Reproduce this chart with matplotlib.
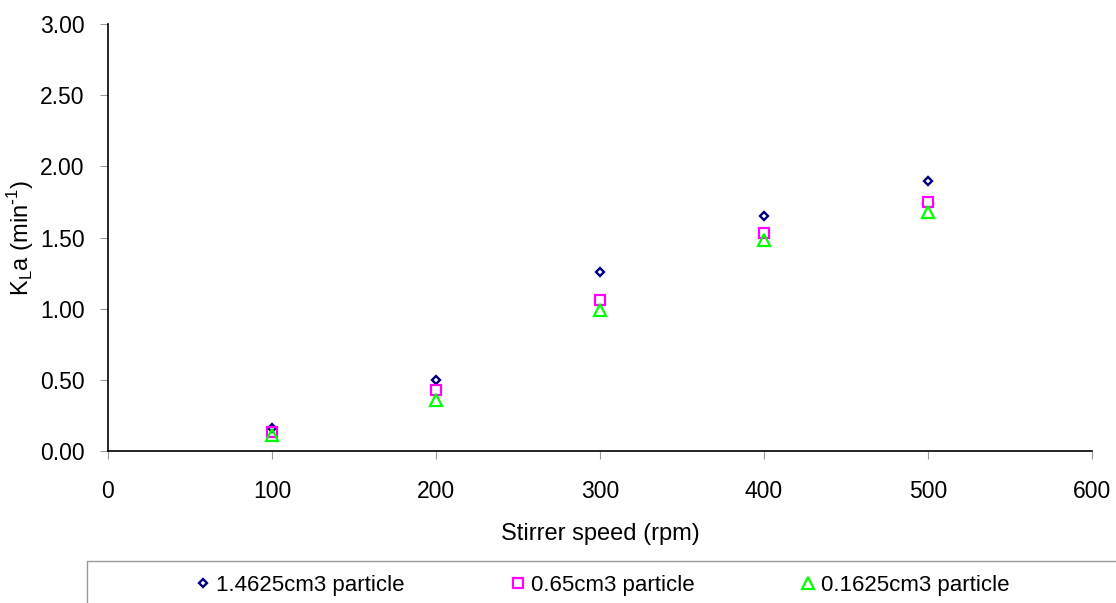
import matplotlib.pyplot as plt
from matplotlib.patches import Rectangle

plt.rcParams['font.family'] = ['Liberation Sans', 'DejaVu Sans']

speed = [100, 200, 300, 400, 500]
kla_large = [0.16, 0.50, 1.26, 1.65, 1.90]
kla_medium = [0.13, 0.43, 1.06, 1.53, 1.75]
kla_small = [0.11, 0.36, 0.99, 1.48, 1.68]
labels = ['1.4625cm3 particle', '0.65cm3 particle', '0.1625cm3 particle']

fig = plt.figure(figsize=(11.16, 6.03), dpi=100)
ax = fig.add_axes([108/1116, 1-451/603, (1092-108)/1116, (451-24)/603])

ax.plot(speed, kla_large, 'D', ms=4.5, mfc='none', mec='#000080', mew=1.7, ls='none', label=labels[0])
ax.plot(speed, kla_medium, 's', ms=6.5, mfc='none', mec='#FF00FF', mew=1.6, ls='none', label=labels[1])
ax.plot(speed, kla_small, '^', ms=8, mfc='none', mec='#00FF00', mew=1.6, ls='none', label=labels[2])

ax.set_xlim(0, 600)
ax.set_ylim(0, 3)
ax.set_xticks([0, 100, 200, 300, 400, 500, 600])
ax.set_yticks([0, 0.5, 1, 1.5, 2, 2.5, 3])
ax.set_yticklabels(['%.2f' % v for v in ax.get_yticks()])
for s in ['top', 'right']:
    ax.spines[s].set_visible(False)
for s in ['left', 'bottom']:
    ax.spines[s].set_linewidth(1.2)
ax.tick_params(axis='both', direction='out', length=6, color='#999999', labelsize=16.5)
ax.tick_params(axis='x', pad=15)
ax.tick_params(axis='y', pad=11)

ax.set_xlabel('Stirrer speed (rpm)', fontsize=17, labelpad=14)
ax.set_ylabel(r'K$_\mathregular{L}$a (min$^\mathregular{\text{-}1}$)', fontsize=17)
ax.yaxis.set_label_coords(-0.073, 0.5)

fig.patches.append(Rectangle((87/1116, -0.1), 1.0, 0.1 + 42/603, transform=fig.transFigure,
                             fill=False, edgecolor='#999999', lw=1))
fig.legend(loc='center', bbox_to_anchor=(603/1116, 1-585/603), ncol=3, frameon=False,
           fontsize=16, handlelength=0.6, handletextpad=0.3, columnspacing=4.8)

fig.savefig('out.png', dpi=100)
